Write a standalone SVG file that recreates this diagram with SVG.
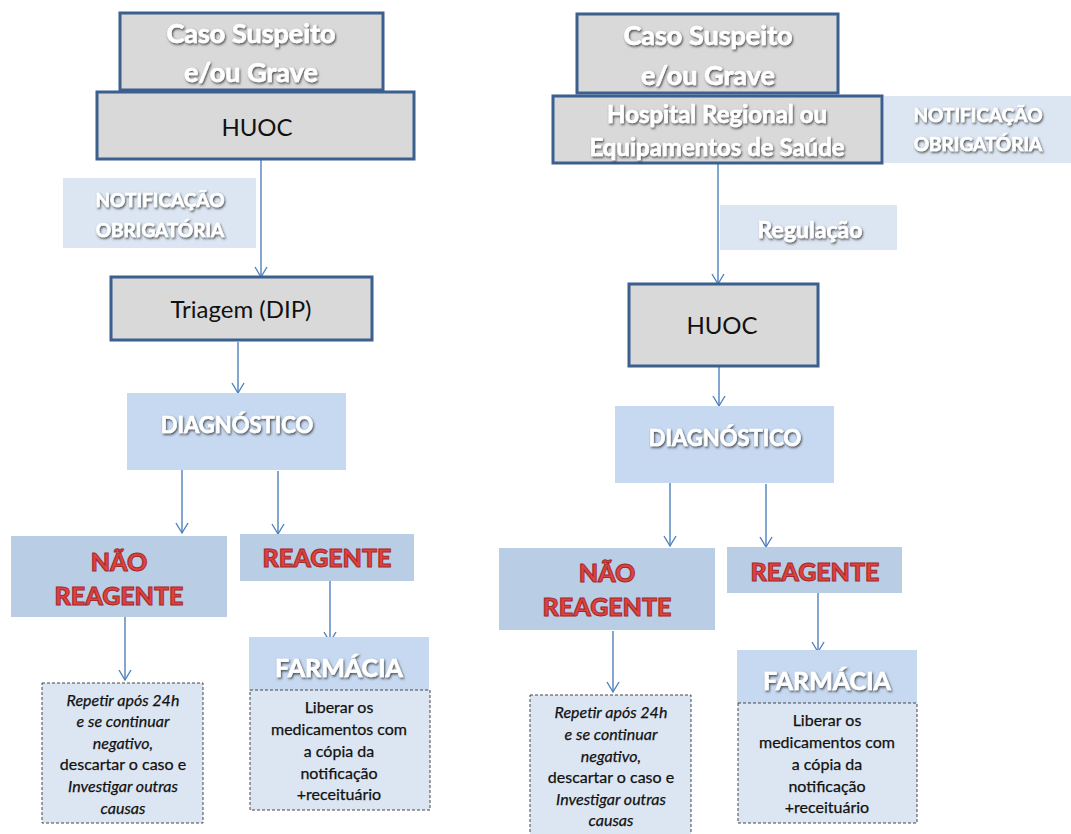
<svg xmlns="http://www.w3.org/2000/svg" width="1071" height="834" viewBox="0 0 1071 834">
<defs>
<filter id="sh" x="-10%" y="-30%" width="120%" height="160%">
<feDropShadow dx="1" dy="1.5" stdDeviation="1" flood-color="#303030" flood-opacity="0.85"/>
</filter>
<marker id="ah" markerUnits="userSpaceOnUse" markerWidth="14" markerHeight="14" viewBox="0 0 14 14" refX="12" refY="7" orient="auto">
<path d="M2,1 L12,7 L2,13" fill="none" stroke="#4f81bd" stroke-width="1.4"/>
</marker>
</defs>
<style>
.gray{fill:#d9d9d9;stroke:#3b5f8e;stroke-width:3}
.lbl{fill:#dce6f2}
.diag{fill:#c6d9f1}
.res{fill:#b9cde5}
.note{fill:#dce6f2;stroke:#444;stroke-width:1;stroke-dasharray:3,2}
.wt{font-family:Lato,"Liberation Sans",sans-serif;font-weight:bold;fill:#fff;stroke:#fff;stroke-width:0.6;text-anchor:middle;filter:url(#sh)}
.bk{font-family:Lato,"Liberation Sans",sans-serif;fill:#111;text-anchor:middle}
.rd{font-family:Lato,"Liberation Sans",sans-serif;font-weight:900;fill:#e2413d;stroke:#9e2a2a;stroke-width:1;text-anchor:middle}
.nt{font-family:Lato,"Liberation Sans",sans-serif;font-size:16px;fill:#111;stroke:#111;stroke-width:0.25;text-anchor:middle}
.it{font-style:italic}
.c{fill:none;stroke:#4f81bd;stroke-width:1.4;marker-end:url(#ah)}
</style>

<g id="connectors">
<path class="c" d="M261,159 V277"/>
<path class="c" d="M238,342 V393"/>
<path class="c" d="M182,470 V533"/>
<path class="c" d="M278,471 V534"/>
<path class="c" d="M125,617 V680"/>
<path class="c" d="M330,581 V642"/>
<path class="c" d="M718,163 V284"/>
<path class="c" d="M719,358 V406"/>
<path class="c" d="M670,482 V546"/>
<path class="c" d="M766,484 V547"/>
<path class="c" d="M613,631 V692"/>
<path class="c" d="M818,593 V652"/>
</g>

<!-- LEFT -->
<g id="l-caso">
<rect class="gray" x="120" y="13" width="263" height="77"/>
<text class="wt" x="251" y="43" font-size="27">Caso Suspeito</text>
<text class="wt" x="251" y="82" font-size="27">e/ou Grave</text>
</g>
<g id="l-huoc">
<rect class="gray" x="97" y="92" width="317" height="67"/>
<text class="bk" x="257" y="136" font-size="24">HUOC</text>
</g>
<g id="l-notif">
<rect class="lbl" x="63" y="178" width="193" height="70"/>
<text class="wt" x="160" y="207" font-size="19">NOTIFICAÇÃO</text>
<text class="wt" x="160" y="237" font-size="19">OBRIGATÓRIA</text>
</g>
<g id="l-triagem">
<rect class="gray" x="111" y="277" width="261" height="63"/>
<text class="bk" x="241" y="318" font-size="24">Triagem (DIP)</text>
</g>
<g id="l-diag">
<rect class="diag" x="127" y="393" width="219" height="77"/>
<text class="wt" x="237" y="433" font-size="22">DIAGNÓSTICO</text>
</g>
<g id="l-nao">
<rect class="res" x="11" y="536" width="216" height="81"/>
<text class="rd" x="119" y="571" font-size="25">NÃO</text>
<text class="rd" x="119" y="605" font-size="25">REAGENTE</text>
</g>
<g id="l-reag">
<rect class="res" x="240" y="534" width="174" height="47"/>
<text class="rd" x="327" y="567" font-size="25">REAGENTE</text>
</g>
<g id="l-repetir">
<rect class="note" x="42" y="683" width="161" height="140"/>
<text class="nt it" x="123" y="706">Repetir após 24h</text>
<text class="nt it" x="123" y="727">e se continuar</text>
<text class="nt it" x="123" y="749">negativo,</text>
<text class="nt" x="123" y="770">descartar o caso e</text>
<text class="nt it" x="123" y="792">Investigar outras</text>
<text class="nt it" x="123" y="814">causas</text>
</g>
<g id="l-farmacia">
<rect class="diag" x="249" y="637" width="180" height="54"/>
<text class="wt" x="339" y="677" font-size="25">FARMÁCIA</text>
</g>
<g id="l-liberar">
<rect class="note" x="250" y="690" width="180" height="120"/>
<text class="nt" x="339" y="713">Liberar os</text>
<text class="nt" x="339" y="735">medicamentos  com</text>
<text class="nt" x="339" y="757">a cópia da</text>
<text class="nt" x="339" y="779">notificação</text>
<text class="nt" x="339" y="800">+receituário</text>
</g>

<!-- RIGHT -->
<g id="r-caso">
<rect class="gray" x="577" y="14" width="261" height="79"/>
<text class="wt" x="708" y="45" font-size="27">Caso Suspeito</text>
<text class="wt" x="708" y="85" font-size="27">e/ou Grave</text>
</g>
<g id="r-notif">
<rect class="lbl" x="884" y="96" width="187" height="67"/>
<text class="wt" x="978" y="122" font-size="19">NOTIFICAÇÃO</text>
<text class="wt" x="978" y="151" font-size="19">OBRIGATÓRIA</text>
</g>
<g id="r-hospital">
<rect class="gray" x="553" y="96" width="329" height="67"/>
<text class="wt" x="717" y="123" font-size="24">Hospital Regional ou</text>
<text class="wt" x="717" y="156" font-size="24">Equipamentos de Saúde</text>
</g>
<g id="r-regulacao">
<rect class="lbl" x="720" y="205" width="177" height="45"/>
<text class="wt" x="810" y="238" font-size="23">Regulação</text>
</g>
<g id="r-huoc">
<rect class="gray" x="629" y="284" width="189" height="82"/>
<text class="bk" x="722" y="334" font-size="24">HUOC</text>
</g>
<g id="r-diag">
<rect class="diag" x="615" y="406" width="219" height="77"/>
<text class="wt" x="725" y="446" font-size="22">DIAGNÓSTICO</text>
</g>
<g id="r-nao">
<rect class="res" x="499" y="548" width="216" height="82"/>
<text class="rd" x="607" y="582" font-size="25">NÃO</text>
<text class="rd" x="607" y="616" font-size="25">REAGENTE</text>
</g>
<g id="r-reag">
<rect class="res" x="727" y="547" width="175" height="46"/>
<text class="rd" x="815" y="581" font-size="25">REAGENTE</text>
</g>
<g id="r-repetir">
<rect class="note" x="530" y="695" width="161" height="145"/>
<text class="nt it" x="611" y="718">Repetir após 24h</text>
<text class="nt it" x="611" y="740">e se continuar</text>
<text class="nt it" x="611" y="762">negativo,</text>
<text class="nt" x="611" y="783">descartar o caso e</text>
<text class="nt it" x="611" y="805">Investigar outras</text>
<text class="nt it" x="611" y="826">causas</text>
</g>
<g id="r-farmacia">
<rect class="diag" x="737" y="650" width="180" height="53"/>
<text class="wt" x="827" y="690" font-size="25">FARMÁCIA</text>
</g>
<g id="r-liberar">
<rect class="note" x="738" y="703" width="179" height="120"/>
<text class="nt" x="827" y="726">Liberar os</text>
<text class="nt" x="827" y="748">medicamentos  com</text>
<text class="nt" x="827" y="770">a cópia da</text>
<text class="nt" x="827" y="792">notificação</text>
<text class="nt" x="827" y="813">+receituário</text>
</g>
</svg>
